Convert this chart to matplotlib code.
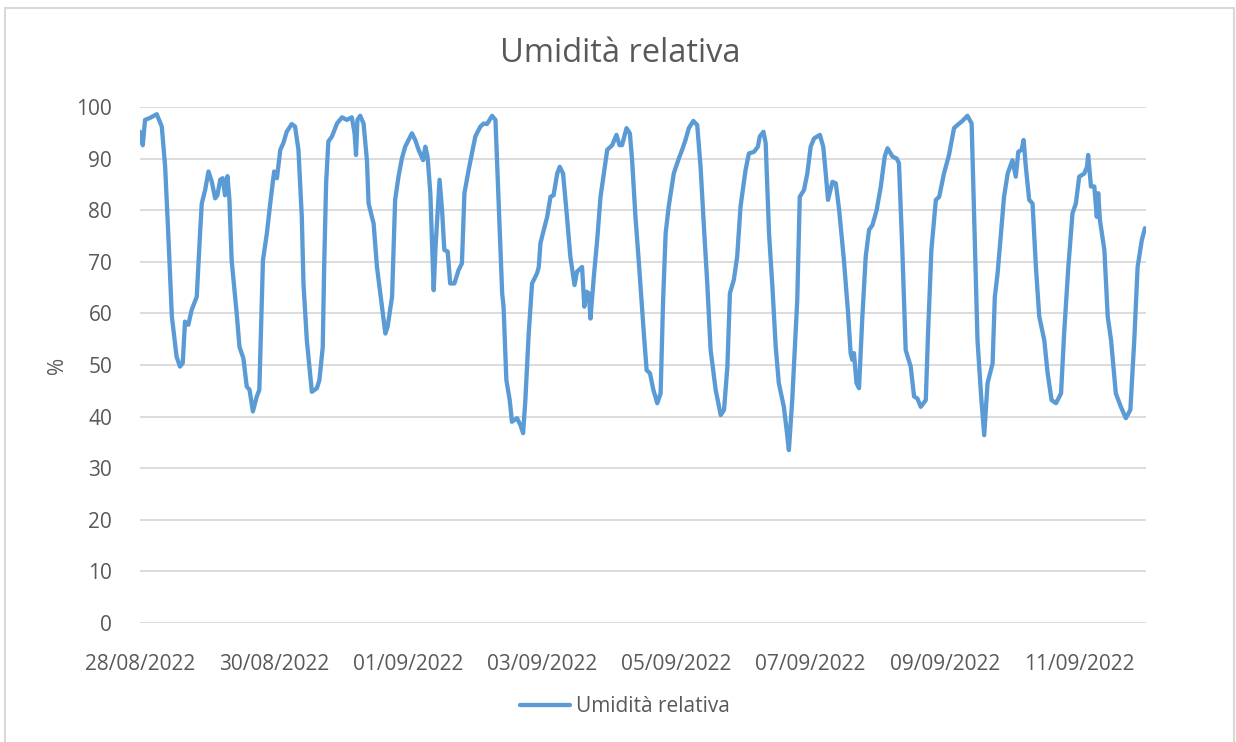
import numpy as np
import pandas as pd
import matplotlib
matplotlib.use('Agg')
from matplotlib import pyplot as plt
from matplotlib.patches import Rectangle

# Relative humidity: hours since 28/08/2022 00:00 and value in %
hours = [0.0, 1.0, 1.8, 3.6, 6.0, 7.8, 9.0, 10.1, 11.4, 13.1, 14.3, 15.3, 16.1, 17.3,
         18.5, 20.3, 21.5, 22.1, 23.3, 24.5, 25.7, 26.9, 27.7, 28.7, 29.6, 30.4, 31.3,
         32.0, 32.8, 34.6, 35.6, 37.0, 38.2, 39.2, 40.4, 41.8, 42.7, 44.0, 45.4, 46.6,
         48.0, 49.0, 50.2, 51.3, 52.5, 54.3, 55.5, 56.7, 57.9, 58.5, 59.7, 61.5, 63.3,
         64.2, 65.4, 65.9, 66.6, 67.4, 68.7, 70.5, 72.3, 74.0, 75.8, 76.8, 77.3, 77.8,
         78.8, 80.0, 81.2, 81.8, 83.6, 84.8, 86.6, 87.8, 88.6, 90.2, 91.3, 92.5, 93.7,
         94.9, 97.3, 98.5, 99.7, 101.3, 102.1, 102.9, 103.9, 105.1, 105.7, 107.2, 108.1,
         108.9, 110.1, 111.0, 112.5, 114.0, 115.2, 116.1, 117.6, 120.0, 121.8, 123.0,
         124.2, 126.0, 127.2, 128.3, 129.6, 130.1, 131.1, 132.3, 133.1, 134.9, 136.1,
         137.1, 137.9, 139.1, 140.3, 142.1, 142.7, 143.3, 144.5, 145.7, 146.9, 148.0,
         149.3, 150.2, 151.4, 152.8, 154.0, 155.5, 156.4, 158.2, 159.0, 159.8, 160.6,
         161.2, 162.4, 163.6, 164.8, 166.0, 167.2, 169.0, 170.5, 171.6, 172.5, 174.1,
         175.3, 176.1, 177.3, 178.5, 180.3, 181.3, 182.5, 183.7, 185.1, 186.3, 187.2,
         188.1, 189.2, 191.0, 192.8, 194.0, 195.2, 196.4, 198.0, 199.4, 200.6, 201.8,
         203.0, 204.2, 206.0, 207.8, 209.0, 210.2, 211.1, 212.5, 213.7, 214.9, 216.7,
         217.9, 219.7, 221.1, 221.8, 223.1, 223.9, 225.1, 226.3, 227.5, 228.6, 230.4,
         231.4, 232.2, 233.4, 235.2, 236.1, 237.6, 238.8, 240.0, 241.2, 243.3, 244.5,
         245.4, 246.2, 247.8, 249.0, 250.2, 251.9, 253.4, 254.3, 254.9, 255.5, 256.4,
         257.3, 258.5, 259.7, 260.9, 262.1, 263.6, 265.1, 266.5, 267.5, 269.3, 270.8,
         271.6, 272.8, 274.0, 275.8, 277.0, 278.2, 279.4, 281.2, 282.0, 283.2, 284.8,
         286.0, 287.7, 289.5, 291.3, 292.5, 294.3, 296.1, 297.6, 298.5, 299.7, 301.1,
         302.1, 303.3, 305.1, 305.9, 306.9, 308.1, 309.2, 310.5, 312.2, 313.4, 314.3,
         315.5, 316.2, 317.0, 318.2, 319.4, 320.6, 321.8, 323.6, 324.8, 326.2, 327.8,
         329.6, 330.7, 332.2, 333.7, 334.9, 336.1, 337.9, 338.9, 339.3, 340.3, 341.5,
         342.4, 342.9, 343.5, 345.1, 346.3, 347.5, 349.2, 351.0, 352.8, 354.4, 355.8,
         357.0, 358.5, 359.6]
rh = [95.2, 92.6, 97.5, 97.9, 98.6, 96.2, 88.4, 75.6, 59.4, 51.6, 49.7, 50.4, 58.4, 57.8,
      60.7, 63.2, 75.6, 81.3, 83.9, 87.5, 85.5, 82.3, 82.9, 85.9, 86.2, 82.9, 86.6,
      82.0, 70.3, 60.0, 53.5, 51.3, 45.8, 45.2, 41.0, 43.9, 45.2, 70.3, 75.5, 81.3,
      87.5, 86.2, 91.7, 93.0, 95.2, 96.7, 96.2, 91.7, 78.7, 65.8, 54.8, 44.8, 45.5,
      47.1, 53.5, 69.0, 85.2, 93.3, 94.3, 96.8, 98.0, 97.5, 98.0, 94.9, 90.7, 97.5,
      98.3, 96.8, 89.7, 81.3, 77.4, 69.0, 61.3, 56.1, 57.4, 63.2, 82.0, 86.5, 90.0,
      92.3, 94.9, 93.6, 91.7, 89.7, 92.3, 90.4, 83.3, 64.5, 72.3, 85.9, 80.0,
      72.3, 72.0, 65.8, 65.8, 68.4, 69.7, 83.3, 87.8, 94.3, 96.2, 96.8,
      96.7, 98.3, 97.5, 82.0, 63.9, 61.3, 47.1, 43.2, 39.0, 39.7, 38.4,
      36.8, 43.2, 56.1, 65.8, 67.8, 69.0, 73.6, 76.2, 78.7, 82.6, 82.9,
      87.1, 88.4, 87.1, 78.7, 71.0, 65.5, 68.1, 69.0, 61.3, 64.2, 63.9,
      59.0, 67.1, 74.2, 82.6, 87.1, 91.7, 92.6, 94.6, 92.6, 92.6, 95.9,
      94.9, 89.7, 78.7, 70.0, 56.1, 49.0, 48.4, 45.2, 42.6, 44.5, 62.6,
      75.5, 80.7, 87.1, 90.0, 91.7, 93.6, 95.9, 97.3, 96.5, 88.4, 76.8,
      65.8, 52.9, 45.2, 40.3, 41.3, 49.7, 63.9, 66.5, 71.0, 80.7, 87.8,
      91.0, 91.3, 92.3, 94.3, 95.2, 93.0, 75.5, 65.2, 53.5, 46.5, 41.9,
      37.4, 33.5, 43.2, 62.6, 82.6, 83.9, 87.1, 92.3, 93.9, 94.6, 92.3,
      87.1, 82.0, 85.5, 85.2, 80.0, 70.3, 60.0, 52.3, 51.0, 52.3, 46.5,
      45.5, 59.4, 71.0, 76.2, 77.1, 80.0, 84.6, 90.4, 92.0, 90.4, 90.0,
      89.1, 72.3, 52.9, 49.7, 43.9, 43.5, 41.9, 43.2, 56.1, 72.3, 82.0,
      82.6, 87.1, 90.7, 95.9, 96.5, 97.3, 98.3, 96.8, 78.7, 54.8, 43.2,
      36.4, 46.5, 50.3, 63.2, 67.8, 75.5, 82.6, 87.1, 89.7, 86.5, 91.3,
      91.7, 93.6, 88.4, 82.0, 81.3, 69.0, 59.4, 54.8, 48.4, 43.2, 42.6,
      44.5, 56.1, 69.0, 79.4, 81.3, 86.5, 87.1, 88.4, 90.7, 84.6, 84.6,
      78.7, 83.3, 78.1, 72.3, 59.4, 54.8, 44.5, 41.9, 39.7, 41.3, 54.8,
      69.0, 74.2, 76.5]

start = pd.Timestamp('2022-08-28')
times = start + pd.to_timedelta(hours, unit='h')
tick_dates = pd.date_range(start, periods=8, freq='2D')
tick_labels = [d.strftime('%d/%m/%Y') for d in tick_dates]

grey_txt = '#595959'
blue = '#5B9BD5'
plt.rcParams['font.family'] = ['Open Sans', 'DejaVu Sans']

fig = plt.figure(figsize=(12.36, 7.42), dpi=100)
fig.patches.append(Rectangle((5 / 1236, -0.01), 1229 / 1236, 1 - 8 / 742 + 0.01,
                             transform=fig.transFigure, fill=False,
                             edgecolor='#D9D9D9', linewidth=1.5))

ax = fig.add_axes([140 / 1236, 119 / 742, 1006 / 1236, 516 / 742])
ax.plot(times, rh, color=blue, linewidth=3.1, solid_joinstyle='round',
        solid_capstyle='round', label='Umidità relativa')

ax.set_ylim(0, 100)
ax.set_yticks(np.arange(0, 101, 10))
ax.set_xlim(start, start + pd.Timedelta(days=15))
ax.set_xticks(tick_dates)
ax.set_xticklabels(tick_labels)
ax.grid(axis='y', color='#D9D9D9', linewidth=1.3)
ax.set_axisbelow(True)
for s in ax.spines.values():
    s.set_visible(False)
ax.tick_params(axis='both', length=0, labelsize=15, colors=grey_txt)
ax.tick_params(axis='y', pad=20)
ax.tick_params(axis='x', pad=22)
ax.set_ylabel('%', fontsize=15, color=grey_txt, labelpad=6)

fig.text(0.502, 1 - 53 / 742, 'Umidità relativa', ha='center', va='center',
         fontsize=23.5, color=grey_txt)
fig.legend(loc='center', bbox_to_anchor=(625 / 1236, 1 - 707 / 742), frameon=False,
           fontsize=15, labelcolor=grey_txt, handlelength=2.4, handletextpad=0.25)

fig.savefig('out.png', dpi=100)
